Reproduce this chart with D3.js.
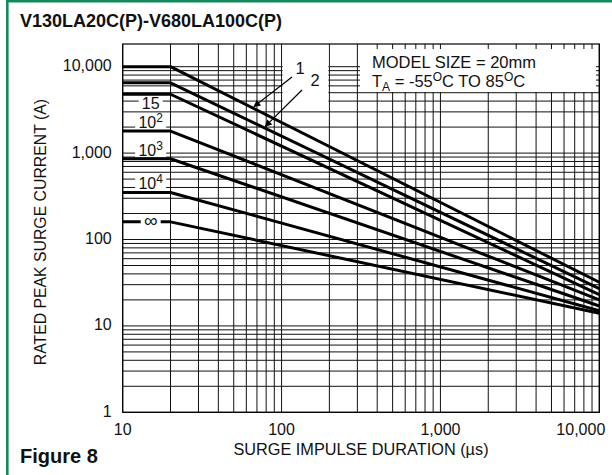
<!DOCTYPE html>
<html>
<head>
<meta charset="utf-8">
<script src="https://cdn.jsdelivr.net/npm/d3@7"></script>
<style>
  html, body { margin: 0; padding: 0; background: #fff; }
  svg { display: block; }
  text { font-family: "Liberation Sans", Arial, Helvetica, sans-serif; fill: #111; }
</style>
</head>
<body>
<svg id="chart" width="612" height="475"></svg>
<script>
// ---- data ----
const seriesLabels = ["1", "2", "15", "10^2", "10^3", "10^4", "∞"];
const durations = [10, 20, 10000];              // µs: flat to 20 µs, then straight (log-log) to 10,000 µs
const currentAt10 = [10000, 6500, 4800, 1800, 860, 350, 160];
const currentAt20 = [10000, 6500, 4800, 1800, 860, 350, 160];
const currentAt10000 = [32, 27, 23, 20, 17, 15, 14];
const xTickValues = [10, 100, 1000, 10000];
const xTickLabels = ["10", "100", "1,000", "10,000"];
const yTickValues = [1, 10, 100, 1000, 10000];
const yTickLabels = ["1", "10", "100", "1,000", "10,000"];

const svg = d3.select("#chart");
const plot = { left: 122.7, right: 599.3, top: 44, bottom: 412.3 };

const x = d3.scaleLog().domain([10, 10000]).range([plot.left, plot.right]);
const y = d3.scaleLog().domain([1, 10000]).range([plot.bottom, 66.7]);
const yTopVal = y.invert(plot.top);

// outer green frame
svg.append("rect")
  .attr("x", 7.3).attr("y", 1.2).attr("width", 610).attr("height", 480)
  .attr("fill", "none").attr("stroke", "#12895a").attr("stroke-width", 2.6);

// title
svg.append("text").attr("x", 20).attr("y", 27)
  .attr("font-size", 18).attr("font-weight", "bold").text("V130LA20C(P)-V680LA100C(P)");

// grid
const g = svg.append("g");
const vLines = [], hLines = [];
for (let k = 1; k <= 3; k++) for (let m = 1; m <= 9; m++) vLines.push(m * Math.pow(10, k));
vLines.push(10000);
for (let k = 0; k <= 4; k++) for (let m = 1; m <= 9; m++) { const v = m * Math.pow(10, k); if (v <= yTopVal) hLines.push(v); }

g.selectAll("line.v").data(vLines).join("line")
  .attr("x1", d => x(d)).attr("x2", d => x(d))
  .attr("y1", plot.top).attr("y2", plot.bottom)
  .attr("stroke", "#111").attr("stroke-width", 1);
g.selectAll("line.h").data(hLines).join("line")
  .attr("x1", plot.left).attr("x2", plot.right)
  .attr("y1", d => y(d)).attr("y2", d => y(d))
  .attr("stroke", "#111").attr("stroke-width", 1);

// white boxes that hide grid (arrow area and legend box)
svg.append("rect").attr("x", x(100) + 1).attr("y", plot.top + 0.8)
  .attr("width", x(200) - x(100) - 2).attr("height", 66).attr("fill", "#fff");
svg.append("rect").attr("x", 360).attr("y", 49)
  .attr("width", 236).attr("height", 43).attr("fill", "#fff");

// legend text
svg.append("text").attr("x", 372).attr("y", 68).attr("font-size", 16.5).text("MODEL SIZE = 20mm");
const t2 = svg.append("text").attr("x", 372).attr("y", 87).attr("font-size", 16.5);
t2.append("tspan").text("T");
t2.append("tspan").attr("font-size", 12).attr("dy", 4).text("A");
t2.append("tspan").attr("dy", -4).text(" = -55");
t2.append("tspan").attr("font-size", 12).attr("dy", -6).text("O");
t2.append("tspan").attr("dy", 6).text("C TO 85");
t2.append("tspan").attr("font-size", 12).attr("dy", -6).text("O");
t2.append("tspan").attr("dy", 6).text("C");

// curves
const curves = seriesLabels.map((s, i) => ({
  label: s,
  pts: [[durations[0], currentAt10[i]], [durations[1], currentAt20[i]], [durations[2], currentAt10000[i]]]
}));
const line = d3.line().x(d => x(d[0])).y(d => y(d[1]));
svg.selectAll("path.curve").data(curves).join("path")
  .attr("d", d => line(d.pts))
  .attr("fill", "none").attr("stroke", "#000").attr("stroke-width", 3)
  .attr("stroke-linejoin", "round");

// curve labels (with white backgrounds); baseline y given in pixels of the label slot
const labelPos = [
  null, null,
  { t: 15, base: 109, bw: 24, top: 97, bot: 111 },
  { t: 15, base: 127.5, bw: 31, top: 113, bot: 129 },
  { t: 15, base: 155.5, bw: 31, top: 141, bot: 157 },
  { t: 15, base: 188.5, bw: 31, top: 174, bot: 190 },
  { t: 15, base: null, bw: 20, top: 0, bot: 0 }
];
curves.forEach((c, i) => {
  const p = labelPos[i];
  if (!p) return;
  const cx = x(p.t);
  if (c.label === "∞") {
    const cy = y(currentAt10[6]);
    svg.append("rect").attr("x", cx - p.bw / 2).attr("y", cy - 5)
      .attr("width", p.bw).attr("height", 10).attr("fill", "#fff");
    svg.append("text").attr("x", cx).attr("y", cy + 5.5).attr("text-anchor", "middle")
      .attr("font-size", 19).text("∞");
    return;
  }
  svg.append("rect").attr("x", cx - p.bw / 2).attr("y", p.top)
    .attr("width", p.bw).attr("height", p.bot - p.top).attr("fill", "#fff");
  const tx = svg.append("text").attr("x", cx).attr("y", p.base)
    .attr("text-anchor", "middle").attr("font-size", 16);
  if (c.label.startsWith("10^")) {
    tx.append("tspan").text("10");
    tx.append("tspan").attr("font-size", 12).attr("dy", -6).text(c.label.slice(3));
  } else {
    tx.text(c.label);
  }
});

// arrows for 1 and 2
const defs = svg.append("defs");
defs.append("marker").attr("id", "ah").attr("viewBox", "0 0 10 10")
  .attr("refX", 9).attr("refY", 5).attr("markerWidth", 10).attr("markerHeight", 7)
  .attr("markerUnits", "userSpaceOnUse").attr("orient", "auto")
  .append("path").attr("d", "M0,0 L10,5 L0,10 z").attr("fill", "#000");
const arrowSpec = [
  { label: "1", tx: 300, ty: 74, x1: 292, y1: 77, tt: 67, on: 0 },
  { label: "2", tx: 315, ty: 86, x1: 302, y1: 90, tt: 79, on: 1 }
];
arrowSpec.forEach(a => {
  const c = curves[a.on];
  const lv = Math.log10(c.pts[1][1]) + (Math.log10(c.pts[2][1]) - Math.log10(c.pts[1][1])) *
    (Math.log10(a.tt) - Math.log10(20)) / (Math.log10(10000) - Math.log10(20));
  svg.append("line").attr("x1", a.x1).attr("y1", a.y1)
    .attr("x2", x(a.tt)).attr("y2", y(Math.pow(10, lv)) - 2)
    .attr("stroke", "#000").attr("stroke-width", 1.2).attr("marker-end", "url(#ah)");
  svg.append("text").attr("x", a.tx).attr("y", a.ty).attr("font-size", 16.5).attr("text-anchor", "middle").text(a.label);
});

// plot frame
svg.append("rect").attr("x", plot.left).attr("y", plot.top)
  .attr("width", plot.right - plot.left).attr("height", plot.bottom - plot.top)
  .attr("fill", "none").attr("stroke", "#000").attr("stroke-width", 1.2);

// axes tick labels
svg.selectAll("text.xt").data(xTickValues).join("text")
  .attr("x", (d, i) => i === xTickValues.length - 1 ? plot.right + 6 : x(d))
  .attr("y", 435).attr("font-size", 16)
  .attr("text-anchor", (d, i) => i === xTickValues.length - 1 ? "end" : "middle")
  .text((d, i) => xTickLabels[i]);
svg.selectAll("text.yt").data(yTickValues).join("text")
  .attr("x", plot.left - 11).attr("y", d => y(d) + 4.5).attr("font-size", 16)
  .attr("text-anchor", "end")
  .text((d, i) => yTickLabels[i]);

// axis titles
svg.append("text").attr("x", (plot.left + plot.right) / 2).attr("y", 455)
  .attr("font-size", 16.3).attr("text-anchor", "middle").text("SURGE IMPULSE DURATION (µs)");
svg.append("text").attr("transform", `translate(46,${(plot.top + plot.bottom) / 2 + 4}) rotate(-90)`)
  .attr("font-size", 15.8).attr("text-anchor", "middle").text("RATED PEAK SURGE CURRENT (A)");

// figure label
svg.append("text").attr("x", 20).attr("y", 463)
  .attr("font-size", 20).attr("font-weight", "bold").text("Figure 8");
</script>
</body>
</html>
